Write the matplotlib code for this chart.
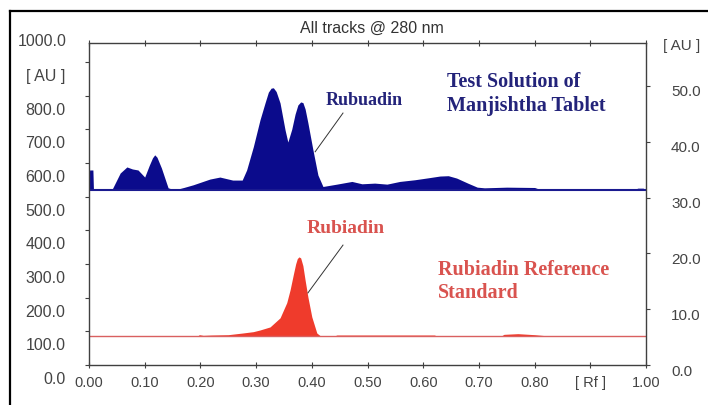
import matplotlib
matplotlib.use('Agg')
import matplotlib.pyplot as plt
import matplotlib.transforms as mtransforms
from matplotlib.lines import Line2D

# densitogram of the test solution (upper track), left axis units
blue_rf = [0.000, 0.001, 0.007, 0.008, 0.041, 0.056, 0.068, 0.078, 0.088, 0.100, 0.108, 0.114,
           0.118, 0.122, 0.130, 0.142, 0.154, 0.170, 0.187, 0.217, 0.235, 0.258, 0.275, 0.283,
           0.295, 0.307, 0.316, 0.322, 0.327, 0.331, 0.336, 0.343, 0.352, 0.357, 0.364, 0.370,
           0.375, 0.380, 0.384, 0.388, 0.393, 0.402, 0.411, 0.420, 0.445, 0.472, 0.490, 0.513,
           0.535, 0.558, 0.585, 0.610, 0.630, 0.645, 0.660, 0.680, 0.697, 0.710, 0.750, 0.800,
           0.810, 0.980, 0.985, 0.995, 1.000]
blue_au = [520, 579, 579, 520, 520, 570, 588, 582, 579, 558, 592, 615,
           624, 617, 585, 526, 520, 527, 535, 552, 558, 549, 549, 579,
           648, 728, 778, 810, 822, 823, 812, 778, 698, 662, 700, 745,
           772, 781, 779, 760, 719, 639, 564, 530, 537, 545, 538, 540,
           537, 545, 550, 556, 561, 562, 555, 540, 528, 526, 528, 527,
           521, 521, 525, 525, 520]
blue_base = 520

# rubiadin reference standard (lower track)
red_rf = [0.000, 0.195, 0.198, 0.205, 0.220, 0.250, 0.276, 0.295, 0.307, 0.325, 0.343, 0.355,
          0.361, 0.367, 0.371, 0.374, 0.377, 0.380, 0.384, 0.388, 0.393, 0.400, 0.409, 0.415,
          0.440, 0.445, 0.620, 0.625, 0.740, 0.745, 0.770, 0.800, 0.820, 1.000]
red_au = [86, 86, 90, 88, 89, 90, 95, 99, 104, 113, 140, 185,
          223, 270, 300, 316, 321, 318, 295, 252, 202, 143, 95, 87,
          86, 89, 89, 86, 86, 91, 93, 90, 87, 86]
red_base = 86

left_ticks = [0, 100, 200, 300, 400, 500, 600, 700, 800, 900]
left_labels = ['0.0', '100.0', '200.0', '300.0', '400.0', '500.0', '600.0', '700.0', '800.0', '[ AU ]']
right_ticks = [0, 10, 20, 30, 40, 50]
right_labels = ['0.0', '10.0', '20.0', '30.0', '40.0', '50.0']
x_ticks = [0.0, 0.1, 0.2, 0.3, 0.4, 0.5, 0.6, 0.7, 0.8, 0.9, 1.0]
x_labels = ['0.00', '0.10', '0.20', '0.30', '0.40', '0.50', '0.60', '0.70', '0.80', '[ Rf ]', '1.00']

navy = '#0b0b8c'
navy_txt = '#23237a'
red = '#ef3b2c'
red_txt = '#d9534f'
grey = '#444444'
sans = 'Liberation Sans'
serif = 'Liberation Serif'

fig = plt.figure(figsize=(7.08, 4.05), dpi=100)
ax = fig.add_axes([89/708, 1 - 365/405, 557/708, 322/405])

ax.fill_between(blue_rf, blue_base, blue_au, color=navy, lw=0)
ax.axhline(blue_base, color='#1a1a90', lw=1.5)
ax.fill_between(red_rf, red_base, red_au, color=red, lw=0)
ax.axhline(red_base, color='#d96060', lw=1.0)

ax.set_xlim(0, 1)
ax.set_ylim(0, 956)

for s in ax.spines.values():
    s.set_color('#404040')
    s.set_linewidth(1.0)

ax.set_xticks(x_ticks)
ax.set_xticklabels(x_labels, fontfamily=sans, fontsize=10.5, color=grey)
ax.set_yticks(left_ticks)
ax.set_yticklabels(left_labels, fontfamily=sans, fontsize=11.5, color=grey)
ax.tick_params(axis='y', direction='out', length=3, pad=14, color='#404040')
ax.tick_params(axis='x', direction='inout', length=4, pad=6, color='#404040', top=True)

# labels sit a bit below their ticks in the original software
off = mtransforms.ScaledTranslation(0, -0.13, fig.dpi_scale_trans)
for lab in ax.get_yticklabels():
    lab.set_transform(lab.get_transform() + off)
ax.text(-0.04, 1000, '1000.0', transform=mtransforms.blended_transform_factory(ax.transAxes, ax.transData) + off,
        ha='right', va='center', fontfamily=sans, fontsize=11.5, color=grey, clip_on=False)

ax2 = ax.twinx()
ax2.set_ylim(0, 57.7)
ax2.set_yticks(right_ticks)
ax2.set_yticklabels(right_labels, fontfamily=sans, fontsize=11, color=grey)
ax2.tick_params(axis='y', direction='out', length=3, pad=15, color='#404040')
for s in ax2.spines.values():
    s.set_visible(False)
off2 = mtransforms.ScaledTranslation(0, -0.05, fig.dpi_scale_trans)
for lab in ax2.get_yticklabels():
    lab.set_transform(lab.get_transform() + off2)
ax2.text(1.03, 0.99, '[ AU ]', transform=ax2.transAxes, ha='left', va='center',
         fontfamily=sans, fontsize=11, color=grey)

fig.text(372/708, 1 - 28/405, 'All tracks @ 280 nm', ha='center', va='center',
         fontfamily=sans, fontsize=11.5, color='#333333')

# annotations
ax.plot([0.456, 0.406], [748, 633], color='#333333', lw=0.7)
ax.text(0.424, 772, 'Rubuadin', color=navy_txt, fontfamily=serif, fontweight='bold', fontsize=13)
ax.text(0.643, 826, 'Test Solution of', color=navy_txt, fontfamily=serif, fontweight='bold', fontsize=14.5)
ax.text(0.643, 754, 'Manjishtha Tablet', color=navy_txt, fontfamily=serif, fontweight='bold', fontsize=14.5)

ax.plot([0.456, 0.393], [356, 214], color='#333333', lw=0.7)
ax.text(0.391, 392, 'Rubiadin', color=red_txt, fontfamily=serif, fontweight='bold', fontsize=14)
ax.text(0.627, 267, 'Rubiadin Reference', color=red_txt, fontfamily=serif, fontweight='bold', fontsize=14.5)
ax.text(0.627, 199, 'Standard', color=red_txt, fontfamily=serif, fontweight='bold', fontsize=14.5)

# outer frame of the screenshot
fig.add_artist(Line2D([10/708, 1], [1 - 11/405, 1 - 11/405], transform=fig.transFigure, color='black', lw=1.6))
fig.add_artist(Line2D([10/708, 10/708], [0, 1 - 11/405], transform=fig.transFigure, color='black', lw=1.6))

fig.savefig('out.png', dpi=100)
